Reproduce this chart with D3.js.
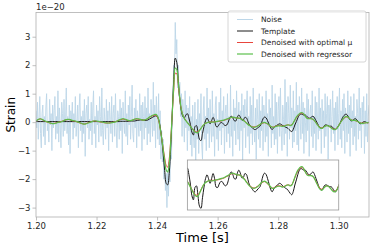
<!DOCTYPE html>
<html>
<head>
<meta charset="utf-8">
<script src="https://cdn.jsdelivr.net/npm/d3@7"></script>
<style>
  body { margin: 0; background: #fff; }
  svg { display: block; font-family: "DejaVu Sans", sans-serif; }
</style>
</head>
<body>
<svg id="chart" width="374" height="249"></svg>
<script>
// sampling: start time and steps (s)
const t0 = 1.2;
const dtNoise = 0.00025;
const dt = 0.0005;

// noisy strain (units of 1e-20), sampled every dtNoise
const noise = [
  0.4, -0.2, 0.7, -0.6, 0.1, 0.9, -0.4, -0.9, 0.3, 0.6,
  -0.5, 0.2, -0.8, 0.5, 1.0, -0.3, 0.0, -0.7, 0.8, -0.1,
  0.3, -1.0, 0.6, -0.2, 0.4, 0.9, -0.6, 0.2, -0.4, 1.1,
  -0.7, 0.5, -0.1, -0.9, 0.7, 0.3, -0.5, 0.8, -0.3, 0.1,
  1.2, -0.4, 0.2, -0.8, 0.6, -1.1, 0.4, 0.0, 0.7, -0.6,
  0.3, -0.2, 0.9, -0.5, -0.1, 0.6, -0.9, 0.5, 1.0, -0.3,
  0.2, -0.7, 0.4, -0.4, 0.8, -1.2, 0.3, 0.6, -0.2, 0.9,
  -0.6, 0.1, -0.3, 0.7, -0.8, 0.5, 1.1, -0.4, 0.2, -0.9,
  0.6, -0.1, 0.4, -0.7, 0.9, 0.2, -0.5, 1.2, -0.3, -0.8,
  0.5, 0.0, -0.6, 0.8, -0.2, 0.4, -1.0, 0.7, 0.1, -0.4,
  0.9, -0.7, 0.3, 0.6, -0.5, 1.0, -0.2, -0.9, 0.4, 0.2,
  -0.6, 0.8, -0.3, 0.5, -1.1, 0.7, 0.0, -0.4, 1.1, -0.5,
  0.3, -0.8, 0.6, -0.1, 0.9, -0.6, 0.2, 1.3, -0.4, -0.7,
  0.5, -0.2, 0.8, -0.9, 0.4, 0.1, -0.5, 1.0, -0.3, 0.6,
  -1.0, 0.7, 0.2, -0.6, 0.9, -0.2, 0.5, -0.8, 1.2, -0.4,
  0.3, -0.7, 0.8, 0.1, -0.5, 1.4, -0.3, 0.6, -0.9, 0.9,
  0.2, -0.6, 1.0, -0.8, 0.4, -1.3, -0.3, -1.4, -0.6, -2.0,
  -1.3, -2.4, -1.8, -3.0, -1.7, -2.6, -1.4, -2.1, -0.6, -1.3,
  0.3, 1.1, 2.0, 1.5, 3.5, 2.4, 2.9, 1.2, 2.0, 0.9,
  1.4, 0.2, 1.0, -0.5, 0.8, 0.3, -0.7, 1.1, -0.2, 0.6,
  -1.0, 0.5, -0.3, 0.9, -0.8, 0.2, -1.2, 0.6, -0.4, -0.9,
  0.7, -1.5, 0.1, -0.6, 0.8, -1.1, 0.3, -0.2, 1.0, -0.8,
  -1.3, 0.4, 0.9, -0.6, 0.2, -1.0, 1.2, -0.4, 0.5, -0.9,
  0.8, -0.2, -0.7, 1.1, -0.5, 0.3, -1.2, 0.6, 0.9, -0.6,
  0.1, -1.0, 0.7, -0.3, 1.2, -0.8, 0.4, -0.2, 0.9, -1.1,
  0.3, 0.6, -0.7, 1.0, -0.4, 0.2, -0.9, 1.3, -0.5, 0.1,
  -1.2, 0.8, -0.3, 0.5, -0.8, 1.1, 0.0, -0.6, 0.7, -1.0,
  0.4, -0.3, 1.0, -1.4, 0.6, -0.2, 0.8, -0.9, 0.3, 1.1,
  -0.5, 0.2, -1.1, 0.9, -0.4, 0.6, -0.8, 1.2, -0.2, -0.7,
  0.5, -1.3, 0.8, 0.1, -0.6, 1.0, -0.9, 0.4, -0.3, 0.9,
  -1.0, 0.6, 0.2, -0.7, 1.1, -0.5, 0.3, -1.2, 0.8, -0.1,
  0.5, -0.9, 1.3, -0.4, 0.2, -0.8, 1.0, -0.6, 0.7, -1.1,
  0.4, 0.9, -0.5, 1.2, -0.3, -1.0, 0.6, 0.1, -0.8, 1.5,
  -0.4, 0.7, -1.2, 0.9, 0.3, -0.6, 1.3, -0.2, 0.5, -0.9,
  1.1, -0.7, 0.4, -0.3, 1.4, -0.8, 0.6, -1.0, 0.9, 0.2,
  -0.6, 1.2, -0.4, 0.7, -1.1, 0.5, 0.0, -0.7, 1.0, -0.3,
  0.8, -1.2, 0.3, 0.6, -0.5, 1.1, -0.9, 0.2, -0.4, 0.9,
  -1.0, 0.7, 0.1, -0.6, 1.2, -0.3, 0.5, -1.1, 0.8, -0.2,
  0.4, -0.9, 1.0, -0.5, 0.3, 0.9, -1.3, 0.6, -0.1, 0.8,
  -0.7, 0.2, 1.1, -0.4, 0.5, -1.0, 0.7, -0.2, 0.9, -0.8,
  0.3, 1.2, -0.6, 0.4, -0.9, 0.8, -0.3, 1.0, -1.1, 0.5,
  0.1, -0.7, 1.1, -0.4, 0.6, -1.2, 0.9, -0.2, 0.4, -0.8,
  1.0, -0.5, 0.2, -1.0, 0.8, 0.3, -0.6, 1.2, -0.3, 0.5,
  -0.9, 0.7, -0.1, 0.9, -1.1, 0.4, -0.5, 1.0, -0.7, 0.2,
  0.6
];

// clean template, sampled every dt
const template = [
  0.02, 0.02, 0.02, 0.02, 0.02, 0.02, 0.02, 0.02, 0.02, 0.02,
  0.02, 0.02, 0.02, 0.02, 0.02, 0.02, 0.02, 0.02, 0.02, 0.02,
  0.02, 0.02, 0.02, 0.02, 0.02, 0.02, 0.02, 0.02, 0.02, 0.02,
  0.02, 0.02, 0.02, 0.02, 0.02, 0.02, 0.02, 0.02, 0.02, 0.02,
  0.02, 0.02, 0.02, 0.02, 0.02, 0.02, 0.02, 0.02, 0.02, 0.02,
  0.02, 0.02, 0.02, 0.02, 0.02, 0.02, 0.03, 0.03, 0.03, 0.03,
  0.03, 0.03, 0.04, 0.04, 0.04, 0.04, 0.05, 0.06, 0.07, 0.08,
  0.08, 0.07, 0.06, 0.06, 0.08, 0.11, 0.14, 0.17, 0.20, 0.22,
  0.20, 0.10, -0.15, -0.55, -1.10, -1.70, -2.15, -2.20, -1.80, -0.90,
  0.30, 1.50, 2.25, 2.10, 1.45, 0.80, 0.40, 0.20, 0.15, 0.25,
  0.30, 0.15, -0.08, -0.35, -0.45, -0.16, -0.12, -0.35, -0.60, -0.65,
  -0.40, -0.15, 0.05, 0.14, 0.05, -0.06, 0.05, 0.17, 0.05, -0.15,
  -0.16, -0.08, -0.02, -0.02, -0.08, -0.12, -0.10, 0.00, 0.15, 0.21,
  0.15, 0.05, 0.04, 0.18, 0.25, 0.18, 0.07, 0.08, 0.17, 0.15,
  0.03, -0.10, -0.15, -0.20, -0.25, -0.26, -0.22, -0.18, -0.14, -0.02,
  0.12, 0.18, 0.15, 0.05, -0.08, -0.20, -0.26, -0.20, -0.14, -0.12,
  -0.08, -0.06, -0.08, -0.12, -0.15, -0.18, -0.20, -0.25, -0.30, -0.33,
  -0.25, -0.10, 0.02, 0.15, 0.25, 0.29, 0.27, 0.25, 0.25, 0.20,
  0.15, 0.14, 0.18, 0.21, 0.15, 0.05, -0.05, -0.15, -0.20, -0.22,
  -0.15, -0.10, -0.10, -0.12, -0.14, -0.14, -0.18, -0.24, -0.26, -0.20,
  -0.12, -0.02, 0.10, 0.20, 0.26, 0.28, 0.22, 0.12, 0.05, 0.05,
  0.10, 0.12, 0.08, 0.00, -0.05, -0.05, 0.00, 0.02, 0.00, -0.02, 0.00
];

// denoised with optimal mu
const denoisedMu = [
  0.04, 0.07, 0.10, 0.11, 0.09, 0.06, 0.03, 0.01, -0.01, -0.03,
  -0.04, -0.05, -0.04, -0.03, -0.01, 0.00, 0.01, 0.03, 0.05, 0.07,
  0.08, 0.09, 0.09, 0.07, 0.05, 0.04, 0.03, 0.01, -0.01, -0.03,
  -0.05, -0.06, -0.06, -0.05, -0.03, -0.01, 0.01, 0.03, 0.04, 0.04,
  0.03, 0.02, 0.01, 0.00, -0.01, -0.02, -0.03, -0.03, -0.03, -0.02,
  -0.01, 0.00, 0.01, 0.03, 0.05, 0.07, 0.09, 0.10, 0.10, 0.09,
  0.07, 0.05, 0.05, 0.06, 0.08, 0.10, 0.11, 0.11, 0.10, 0.09,
  0.08, 0.07, 0.08, 0.10, 0.13, 0.17, 0.20, 0.22, 0.24, 0.24,
  0.20, 0.06, -0.22, -0.55, -0.90, -1.25, -1.52, -1.58, -1.30, -0.62,
  0.28, 1.12, 1.72, 1.70, 1.30, 0.80, 0.45, 0.26, 0.14, 0.06,
  -0.01, -0.07, -0.14, -0.21, -0.27, -0.32, -0.34, -0.33, -0.28, -0.21,
  -0.14, -0.08, -0.04, -0.02, 0.00, 0.01, 0.01, 0.01, 0.01, 0.02,
  0.02, 0.03, 0.04, 0.05, 0.06, 0.08, 0.10, 0.12, 0.14, 0.16,
  0.17, 0.16, 0.15, 0.14, 0.14, 0.13, 0.11, 0.07, 0.03, -0.02,
  -0.07, -0.11, -0.14, -0.16, -0.17, -0.16, -0.14, -0.11, -0.08, -0.05,
  -0.03, -0.02, -0.04, -0.07, -0.11, -0.15, -0.17, -0.17, -0.15, -0.13,
  -0.12, -0.12, -0.13, -0.14, -0.13, -0.11, -0.10, -0.10, -0.11, -0.09,
  -0.02, 0.07, 0.16, 0.23, 0.28, 0.31, 0.31, 0.27, 0.20, 0.15,
  0.13, 0.13, 0.12, 0.10, 0.05, -0.02, -0.09, -0.15, -0.19, -0.20,
  -0.17, -0.14, -0.12, -0.13, -0.16, -0.19, -0.23, -0.25, -0.24, -0.19,
  -0.11, -0.03, 0.05, 0.11, 0.16, 0.18, 0.17, 0.13, 0.09, 0.07,
  0.06, 0.05, 0.03, 0.01, -0.02, -0.03, -0.03, -0.03, -0.02, -0.02, -0.02
];

// denoised with regressor
const denoisedReg = [
  0.05, 0.08, 0.11, 0.12, 0.10, 0.07, 0.04, 0.02, 0.00, -0.02,
  -0.04, -0.05, -0.05, -0.04, -0.02, 0.00, 0.00, 0.02, 0.04, 0.07,
  0.09, 0.10, 0.10, 0.08, 0.06, 0.05, 0.04, 0.02, 0.00, -0.02,
  -0.04, -0.06, -0.07, -0.06, -0.04, -0.02, 0.00, 0.02, 0.04, 0.05,
  0.04, 0.03, 0.02, 0.01, 0.00, -0.01, -0.02, -0.03, -0.03, -0.03,
  -0.02, -0.01, 0.00, 0.02, 0.05, 0.08, 0.10, 0.12, 0.12, 0.10,
  0.08, 0.06, 0.05, 0.06, 0.08, 0.10, 0.12, 0.12, 0.11, 0.10,
  0.08, 0.07, 0.08, 0.10, 0.14, 0.18, 0.21, 0.24, 0.26, 0.27,
  0.24, 0.10, -0.20, -0.55, -0.95, -1.35, -1.68, -1.75, -1.45, -0.70,
  0.30, 1.25, 1.90, 1.85, 1.40, 0.85, 0.45, 0.25, 0.12, 0.05,
  -0.02, -0.08, -0.15, -0.22, -0.29, -0.34, -0.37, -0.36, -0.30, -0.22,
  -0.14, -0.08, -0.04, -0.02, 0.00, 0.00, 0.00, 0.00, 0.01, 0.02,
  0.03, 0.04, 0.05, 0.06, 0.07, 0.09, 0.11, 0.13, 0.15, 0.17,
  0.18, 0.17, 0.15, 0.14, 0.14, 0.13, 0.10, 0.06, 0.02, -0.03,
  -0.08, -0.12, -0.15, -0.17, -0.18, -0.17, -0.15, -0.12, -0.08, -0.04,
  -0.02, -0.01, -0.03, -0.06, -0.10, -0.14, -0.18, -0.18, -0.16, -0.14,
  -0.13, -0.13, -0.14, -0.15, -0.14, -0.12, -0.10, -0.10, -0.12, -0.10,
  -0.02, 0.08, 0.18, 0.25, 0.30, 0.33, 0.33, 0.28, 0.20, 0.14,
  0.12, 0.12, 0.12, 0.10, 0.05, -0.03, -0.10, -0.17, -0.21, -0.22,
  -0.18, -0.14, -0.12, -0.13, -0.16, -0.20, -0.24, -0.26, -0.25, -0.20,
  -0.12, -0.03, 0.05, 0.12, 0.18, 0.20, 0.18, 0.13, 0.08, 0.06,
  0.06, 0.06, 0.04, 0.01, -0.02, -0.04, -0.04, -0.03, -0.02, -0.02, -0.02
];

const xTicks = [1.20, 1.22, 1.24, 1.26, 1.28, 1.30];
const yTicks = [-3, -2, -1, 0, 1, 2, 3];
const legendLabels = ["Noise", "Template", "Denoised with optimal \u03bc", "Denoised with regressor"];

const colors = {
   noise: "#bcd6e8",
   template: "#1a1a1a",
   mu: "#e8453c",
   reg: "#5cbf4c",
   spine: "#b0b0b0",
   text: "#262626",
};

const svg = d3.select("#chart");
const W = 374, H = 249;
const M = { left: 36, right: 5, top: 12.5, bottom: 32 };

const x = d3.scaleLinear().domain([1.2, 1.31]).range([M.left, W - M.right]);
const y = d3.scaleLinear().domain([-3.33, 3.85]).range([H - M.bottom, M.top]);

const noiseTimes = noise.map((_, j) => t0 + j * dtNoise);
const times = template.map((_, i) => t0 + i * dt);

svg.append("defs").append("clipPath").attr("id", "plotClip")
   .append("rect")
   .attr("x", M.left).attr("y", M.top)
   .attr("width", W - M.left - M.right).attr("height", H - M.top - M.bottom);

const plot = svg.append("g").attr("clip-path", "url(#plotClip)");

const lineOf = (tArr, yScale, curve) => d3.line()
   .x((d, i) => x(tArr[i]))
   .y((d) => yScale(d))
   .curve(curve);

// Noise
plot.append("path")
   .attr("d", lineOf(noiseTimes, y, d3.curveLinear)(noise))
   .attr("fill", "none")
   .attr("stroke", colors.noise)
   .attr("stroke-width", 0.9);

const series = [
   { data: template, color: colors.template, w: 1 },
   { data: denoisedMu, color: colors.mu, w: 1 },
   { data: denoisedReg, color: colors.reg, w: 1.2 },
];

series.forEach((s) => {
   plot.append("path")
      .attr("d", lineOf(times, y, d3.curveCatmullRom)(s.data))
      .attr("fill", "none")
      .attr("stroke", s.color)
      .attr("stroke-width", s.w);
});

// Axes
const xAxis = svg.append("g")
   .attr("transform", `translate(0,${H - M.bottom})`)
   .call(d3.axisBottom(x).tickValues(xTicks).tickFormat(d3.format(".2f")).tickSize(3.5).tickPadding(2));

const yAxis = svg.append("g")
   .attr("transform", `translate(${M.left},0)`)
   .call(d3.axisLeft(y).tickValues(yTicks).tickFormat((d) => (d < 0 ? "\u2212" + Math.abs(d) : d)).tickSize(3.5).tickPadding(2));

[xAxis, yAxis].forEach((a) => {
   a.select(".domain").remove();
   a.selectAll(".tick line").attr("stroke", colors.spine).attr("stroke-width", 0.8);
   a.selectAll(".tick text")
      .attr("fill", colors.text)
      .style("font-size", "8.5px")
      .style("font-family", "DejaVu Sans");
});

// Frame
svg.append("rect")
   .attr("x", M.left).attr("y", M.top)
   .attr("width", W - M.left - M.right).attr("height", H - M.top - M.bottom)
   .attr("fill", "none")
   .attr("stroke", colors.spine)
   .attr("stroke-width", 0.8);

// Offset text
svg.append("text")
   .attr("x", M.left).attr("y", 9.5)
   .attr("fill", colors.text)
   .style("font-size", "8.5px")
   .text("1e\u221220");

// Axis labels
svg.append("text")
   .attr("x", (M.left + W - M.right) / 2)
   .attr("y", 242)
   .attr("text-anchor", "middle")
   .attr("fill", "#000")
   .style("font-size", "13px")
   .text("Time [s]");

svg.append("text")
   .attr("transform", `translate(15,${(M.top + H - M.bottom) / 2}) rotate(-90)`)
   .attr("text-anchor", "middle")
   .attr("fill", "#000")
   .style("font-size", "12px")
   .text("Strain");

// Legend
const lg = svg.append("g");
lg.append("rect")
   .attr("x", 228).attr("y", 11)
   .attr("width", 138).attr("height", 51)
   .attr("rx", 2)
   .attr("fill", "#fff").attr("fill-opacity", 0.8)
   .attr("stroke", "#cccccc").attr("stroke-width", 0.8);

const legendColors = [colors.noise, colors.template, colors.mu, colors.reg];
legendLabels.forEach((lab, i) => {
   const ly = 19.5 + i * 11.5;
   lg.append("line")
      .attr("x1", 237).attr("x2", 253)
      .attr("y1", ly).attr("y2", ly)
      .attr("stroke", legendColors[i])
      .attr("stroke-width", i === 3 ? 1.2 : 1);
   lg.append("text")
      .attr("x", 261).attr("y", ly + 2.7)
      .attr("fill", colors.text)
      .style("font-size", "7.5px")
      .text(lab);
});

// Inset (same time axis, zoomed strain)
const inset = { x0: 1.25, x1: 1.30, top: 160, bottom: 210 };
const yIn = d3.scaleLinear().domain([-0.69, 0.49]).range([inset.bottom, inset.top]);

svg.append("defs").append("clipPath").attr("id", "insetClip")
   .append("rect")
   .attr("x", x(inset.x0)).attr("y", inset.top)
   .attr("width", x(inset.x1) - x(inset.x0)).attr("height", inset.bottom - inset.top);

svg.append("rect")
   .attr("x", x(inset.x0)).attr("y", inset.top)
   .attr("width", x(inset.x1) - x(inset.x0)).attr("height", inset.bottom - inset.top)
   .attr("fill", "#fff");

const ig = svg.append("g").attr("clip-path", "url(#insetClip)");
series.forEach((s) => {
   ig.append("path")
      .attr("d", lineOf(times, yIn, d3.curveCatmullRom)(s.data))
      .attr("fill", "none")
      .attr("stroke", s.color)
      .attr("stroke-width", s.w);
});

svg.append("rect")
   .attr("x", x(inset.x0)).attr("y", inset.top)
   .attr("width", x(inset.x1) - x(inset.x0)).attr("height", inset.bottom - inset.top)
   .attr("fill", "none")
   .attr("stroke", "#999")
   .attr("stroke-width", 0.8);
</script>
</body>
</html>
